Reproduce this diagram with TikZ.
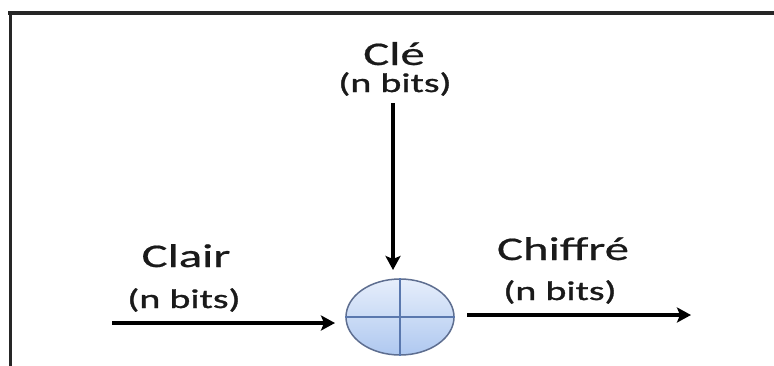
\documentclass[tikz,border=0pt]{standalone}
\usepackage{fontspec}
\setmainfont{Carlito}
\newfontfamily\labfont[FakeStretch=1.48,FakeBold=0.6]{Carlito}
\newfontfamily\smallfont[FakeStretch=1.48,FakeBold=1.2]{Carlito}
\usetikzlibrary{shapes.geometric,arrows.meta}
\definecolor{txt}{HTML}{1A1A1A}
\definecolor{xorborder}{HTML}{5E6E90}
\definecolor{xorline}{HTML}{5A78AE}
\definecolor{xortop}{HTML}{E6EEFB}
\definecolor{xorbot}{HTML}{AFC8F0}
\tikzset{
  big/.style={anchor=base, inner sep=0pt, text=txt, font=\labfont\fontsize{33}{36}\selectfont},
  small/.style={anchor=base, inner sep=0pt, text=txt, font=\smallfont\fontsize{27}{30}\selectfont},
  arr/.style={line width=3.2pt, draw=black, -{Stealth[length=14pt,width=15pt,inset=3pt]}},
  xorop/.style={ellipse, draw=xorborder, line width=1.5pt, minimum width=108pt, minimum height=76pt, inner sep=0pt, top color=xortop, bottom color=xorbot},
  frame/.style={draw=black!85, line cap=rect}
}
\begin{document}
\begin{tikzpicture}[x=1pt,y=-1pt]
\useasboundingbox (0,0) rectangle (774,365);
% frame
\draw[frame, line width=3.4pt] (10,13) -- (774,13);
\draw[frame, line width=3pt] (10,13) -- (10,365);
% XOR operator
\node[xorop] (xor) at (400,317) {};
\draw[xorline, line width=1.3pt] (xor.north) -- (xor.south);
\draw[xorline, line width=1.3pt] (xor.west) -- (xor.east);
% labels
\node[big] (cle) at (394,65) {Clé};
\node[small] (cleb) at (395,92) {(n bits)};
\node[big] (clair) at (186,267) {Clair};
\node[small] (clairb) at (184,308) {(n bits)};
\node[big] (chif) at (563,260) {Chiffré};
\node[small] (chifb) at (560,300) {(n bits)};
% connectors
\coordinate (kt) at (393,103);
\coordinate (ke) at (393,270);
\coordinate (ls) at (112,323);
\coordinate (le) at (335,323);
\coordinate (rs) at (467,315);
\coordinate (re) at (691,315);
\draw[arr] (kt) -- (ke);
\draw[arr] (ls) -- (le);
\draw[arr] (rs) -- (re);
\end{tikzpicture}
\end{document}
